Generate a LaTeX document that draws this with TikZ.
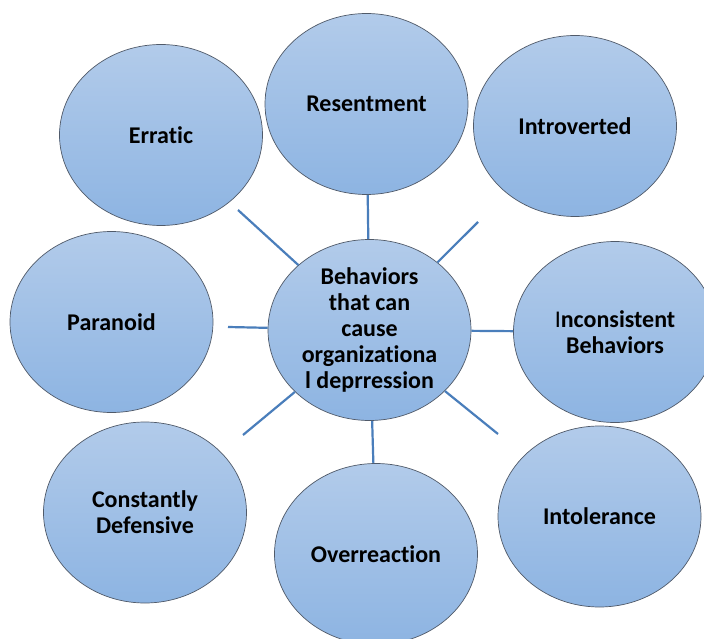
\documentclass[tikz,border=0pt]{standalone}
\usepackage{fontspec}
\setmainfont[Ligatures=NoCommon]{Carlito}
\usetikzlibrary{shapes.geometric}
\definecolor{topc}{RGB}{178,203,234}
\definecolor{botc}{RGB}{141,180,226}
\definecolor{edgec}{RGB}{80,90,105}
\definecolor{linec}{RGB}{74,126,187}
\tikzset{
  bubble/.style={ellipse, draw=edgec, line width=0.7pt, top color=topc, bottom color=botc,
    minimum width=203pt, minimum height=181pt, inner sep=0pt, align=center,
    font=\fontsize{24}{26}\selectfont\bfseries, text=black},
  spoke/.style={draw=linec, line width=2.2pt}
}
\begin{document}
\begin{tikzpicture}[x=1pt,y=-1pt]
\path[clip] (0,0) rectangle (704,639);
\fill[white] (0,0) rectangle (704,639);
\node[bubble] (c) at (369.5,330) {Behaviors\\that can\\cause\\organizationa\\l deprression};
\node[bubble] (err) at (161,135) {Erratic};
\node[bubble] (res) at (366.5,104) {Resentment};
\node[bubble] (intro) at (575,126) {Introverted};
\node[bubble] (par) at (111.5,322) {Paranoid};
\node[bubble] (inc) at (615,332) {{\mdseries I}nconsistent\\Behaviors};
\node[bubble] (def) at (145,512.5) {Constantly\\Defensive};
\node[bubble] (over) at (376,554) {Overreaction};
\node[bubble] (intol) at (599.5,516.5) {Intolerance};
\coordinate (ul) at (238,210);
\coordinate (ur) at (478,222);
\coordinate (l) at (228,327);
\coordinate (ll) at (243,435);
\coordinate (lr) at (498,434);
\draw[spoke] (res) -- (c);
\draw[spoke] (c) -- (inc);
\draw[spoke] (c) -- (over);
\draw[spoke] (ul) -- (c);
\draw[spoke] (ur) -- (c);
\draw[spoke] (l) -- (c);
\draw[spoke] (ll) -- (c);
\draw[spoke] (lr) -- (c);
\end{tikzpicture}
\end{document}
